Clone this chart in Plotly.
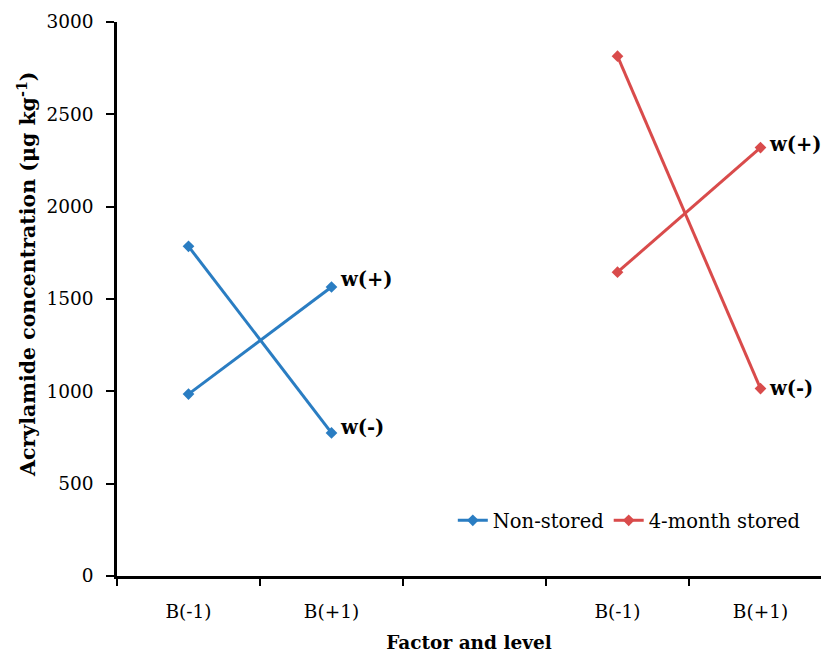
import plotly.graph_objects as go

categories = ["B(-1)", "B(+1)", "", "B(-1)", "B(+1)"]
cat_pos = [0, 1, 2, 3, 4]

# Non-stored
ns_w_minus = [1785, 775]
ns_w_plus = [985, 1565]
# 4-month stored
st_w_minus = [2815, 1015]
st_w_plus = [1645, 2320]

y_title = "<b>Acrylamide concentration (μg kg<sup>-1</sup>)</b>"
x_title = "<b>Factor and level</b>"

blue = "#2A7DC2"
red = "#D94B4B"
font_family = "DejaVu Serif"

fig = go.Figure()

def add_line(xs, ys, color, name, show):
    fig.add_trace(go.Scatter(
        x=xs, y=ys, mode="lines+markers", name=name, showlegend=show,
        legendgroup=name,
        line=dict(color=color, width=3),
        marker=dict(symbol="diamond", size=9, color=color),
    ))

add_line(cat_pos[0:2], ns_w_minus, blue, "Non-stored", True)
add_line(cat_pos[0:2], ns_w_plus, blue, "Non-stored", False)
add_line(cat_pos[3:5], st_w_minus, red, "4-month stored", True)
add_line(cat_pos[3:5], st_w_plus, red, "4-month stored", False)

labels = [
    (cat_pos[1], ns_w_plus[1], "w(+)", 8),
    (cat_pos[1], ns_w_minus[1], "w(-)", 5),
    (cat_pos[4], st_w_plus[1], "w(+)", 3),
    (cat_pos[4], st_w_minus[1], "w(-)", 0),
]
for x, y, t, dy in labels:
    fig.add_annotation(x=x, y=y, text="<b>" + t + "</b>", showarrow=False,
                       xanchor="left", yanchor="middle", xshift=6, yshift=dy,
                       font=dict(family=font_family, size=19.5, color="black"))

# y-axis title (placed like the reference, slightly above plot centre)
fig.add_annotation(xref="paper", yref="paper", x=-0.128, y=0.545,
                   xanchor="center", yanchor="middle", textangle=-90,
                   text=y_title, showarrow=False,
                   font=dict(family=font_family, size=20.5, color="black"))

fig.update_layout(
    width=821, height=655,
    margin=dict(l=117, r=0, t=22, b=79),
    plot_bgcolor="white", paper_bgcolor="white",
    font=dict(family=font_family, size=18.5, color="black"),
    legend=dict(orientation="h", x=0.477, y=0.10, xanchor="left", yanchor="middle",
                font=dict(family=font_family, size=19.5), bgcolor="rgba(0,0,0,0)",
                itemwidth=30),
    xaxis=dict(
        range=[-0.5, -0.5 + 704 / 143], tickmode="array",
        tickvals=[0, 1, 3, 4], ticktext=[categories[i] for i in [0, 1, 3, 4]],
        ticks="", showgrid=False, zeroline=False,
        showline=True, linecolor="black", linewidth=2.5,
        minor=dict(tick0=-0.5, dtick=1, ticks="outside", ticklen=7,
                   tickwidth=2, tickcolor="black", showgrid=False),
        ticklabelstandoff=17,
        title=dict(text=x_title, font=dict(size=18.5), standoff=16),
    ),
    yaxis=dict(
        range=[0, 3000], tickmode="linear", tick0=0, dtick=500,
        ticks="outside", ticklen=8, tickwidth=2, tickcolor="black",
        showgrid=False, zeroline=False,
        showline=True, linecolor="black", linewidth=2.5,
        ticklabelstandoff=9,
    ),
)

fig.write_html("out.html")
